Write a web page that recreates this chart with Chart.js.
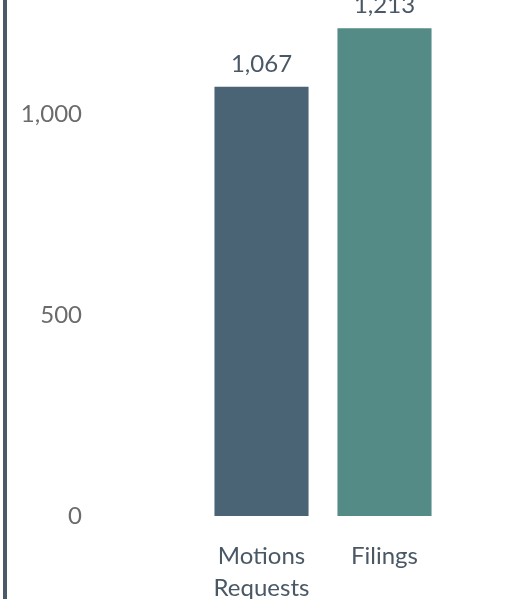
<!DOCTYPE html>
<html>
<head>
<meta charset="utf-8">
<script src="https://cdn.jsdelivr.net/npm/chart.js@4"></script>
<style>
    html, body { margin: 0; padding: 0; background: #ffffff; }
    canvas { display: block; }
</style>
</head>
<body>
<canvas id="chart" width="516" height="599"></canvas>
<script>
// values
const categories = [['Motions', 'Requests'], 'Filings']
const counts = [1067, 1213]
const bar_colors = ['#4a6475', '#548b87']
const y_ticks = [0, 500, 1000]

const font_family = 'Lato, "Open Sans", sans-serif'

// the dark rule down the left edge
const left_rule = {
    id: 'left_rule',
    beforeDraw(chart) {
        let ctx = chart.ctx
        ctx.save()
        ctx.fillStyle = '#4a5a68'
        ctx.fillRect(3, 0, 4, chart.height)
        ctx.restore()
    }
}

// value above each bar
const bar_values = {
    id: 'bar_values',
    afterDatasetsDraw(chart) {
        let ctx = chart.ctx
        let meta = chart.getDatasetMeta(0)
        ctx.save()
        ctx.font = '24px ' + font_family
        ctx.fillStyle = '#4a5866'
        ctx.textAlign = 'center'
        ctx.textBaseline = 'alphabetic'
        for (let i = 0; i < meta.data.length; i ++) {
            let bar = meta.data[i]
            ctx.fillText(counts[i].toLocaleString('en-US'), bar.x, bar.y - 15)
        }
        ctx.restore()
    }
}

new Chart(document.getElementById('chart'), {
    type: 'bar',
    data: {
        labels: categories,
        datasets: [{
            data: counts,
            backgroundColor: bar_colors,
            categoryPercentage: 1,
            barPercentage: 0.765
        }]
    },
    options: {
        responsive: false,
        animation: false,
        layout: { padding: { left: 10, right: 70, top: 0, bottom: 0 } },
        plugins: {
            legend: { display: false },
            tooltip: { enabled: false }
        },
        scales: {
            x: {
                grid: { display: false, drawTicks: false },
                border: { display: false },
                afterFit(axis) { axis.height = 83 },
                ticks: {
                    padding: 24,
                    maxRotation: 0,
                    autoSkip: false,
                    color: '#4a5866',
                    font: { family: font_family, size: 24, lineHeight: 1.33 }
                }
            },
            y: {
                min: 0,
                max: 1283,
                grid: { display: false, drawTicks: false },
                border: { display: false },
                afterFit(axis) {
                    axis.width = 190
                    axis.paddingTop = 0
                    axis.paddingBottom = 0
                },
                afterBuildTicks(axis) {
                    axis.ticks = y_ticks.map(v => ({ value: v }))
                },
                ticks: {
                    padding: 118,
                    color: '#6b6b6b',
                    font: { family: font_family, size: 24 },
                    callback: v => v.toLocaleString('en-US')
                }
            }
        }
    },
    plugins: [left_rule, bar_values]
})
</script>
</body>
</html>
